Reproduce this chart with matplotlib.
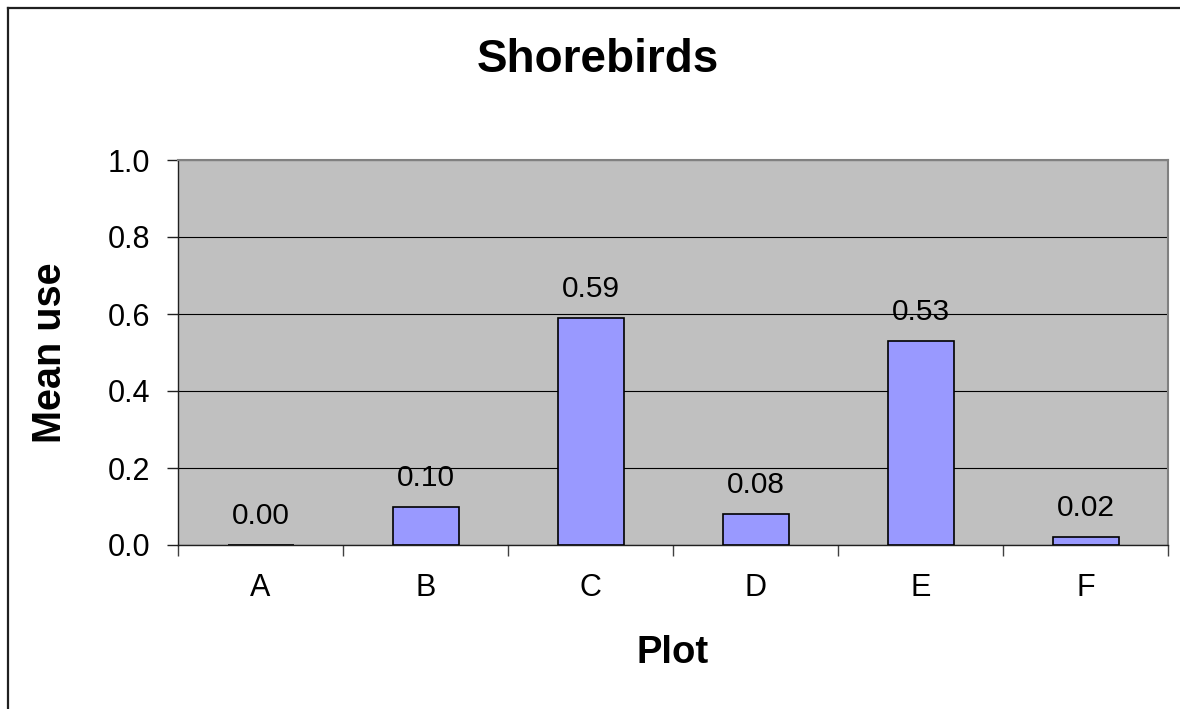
import matplotlib
matplotlib.use("Agg")
import matplotlib.pyplot as plt
from matplotlib.lines import Line2D

# Mean use per plot
plots = ["A", "B", "C", "D", "E", "F"]
mean_use = [0.00, 0.10, 0.59, 0.08, 0.53, 0.02]
value_labels = ["0.00", "0.10", "0.59", "0.08", "0.53", "0.02"]
y_ticks = [0.0, 0.2, 0.4, 0.6, 0.8, 1.0]
y_tick_labels = ["0.0", "0.2", "0.4", "0.6", "0.8", "1.0"]

plt.rcParams["font.family"] = ["Liberation Sans", "DejaVu Sans"]

W, H = 1180, 709
fig = plt.figure(figsize=(W / 100, H / 100), dpi=100)
fig.patch.set_facecolor("white")

ax = fig.add_axes([178 / W, 1 - 545 / H, (1168 - 178) / W, (545 - 160) / H])
ax.set_facecolor("#C0C0C0")

x = list(range(len(plots)))
ax.bar(x, mean_use, width=0.4, color="#9999FF", edgecolor="black",
       linewidth=1.2, zorder=3)

ax.set_xlim(-0.5, len(plots) - 0.5)
ax.set_ylim(0, 1.0)

# Horizontal gridlines
ax.set_yticks(y_ticks)
ax.set_yticklabels(y_tick_labels, fontsize=22)
ax.yaxis.grid(True, color="black", linewidth=0.8, zorder=1)
ax.set_axisbelow(True)

# Category labels centred, tick marks at category boundaries
ax.set_xticks(x)
ax.set_xticklabels(plots, fontsize=22)
ax.tick_params(axis="x", which="major", length=0, pad=20)
ax.set_xticks([i - 0.5 for i in range(len(plots) + 1)], minor=True)
ax.tick_params(axis="x", which="minor", length=8, width=1.0, color="#404040",
               direction="out")
ax.tick_params(axis="y", length=8, width=1.0, color="#202020",
               direction="out", pad=12)

for side in ("top", "right"):
    ax.spines[side].set_color("#808080")
    ax.spines[side].set_linewidth(1.5)
for side in ("left", "bottom"):
    ax.spines[side].set_color("#202020")
    ax.spines[side].set_linewidth(1.0)

# Value labels above bars
for xi, v, lab in zip(x, mean_use, value_labels):
    ax.annotate(lab, xy=(xi, v), xytext=(0, 29), textcoords="offset pixels",
                ha="center", va="center", fontsize=21.5, zorder=4)

fig.text(598 / W, 1 - 60 / H, "Shorebirds", ha="center", va="center",
         fontsize=33, fontweight="bold")
fig.text(50 / W, 1 - 353 / H, "Mean use", ha="center", va="center",
         rotation=90, fontsize=28.5, fontweight="bold")
fig.text(673 / W, 1 - 653 / H, "Plot", ha="center", va="center",
         fontsize=27.5, fontweight="bold")

# Chart-area border along the top and left
fig.add_artist(Line2D([8 / W, 8 / W], [0, 1 - 8 / H], color="#202020",
                      linewidth=1.6, transform=fig.transFigure))
fig.add_artist(Line2D([8 / W, 1], [1 - 8 / H, 1 - 8 / H], color="#202020",
                      linewidth=1.6, transform=fig.transFigure))

fig.savefig("out.png", dpi=100, facecolor="white")
